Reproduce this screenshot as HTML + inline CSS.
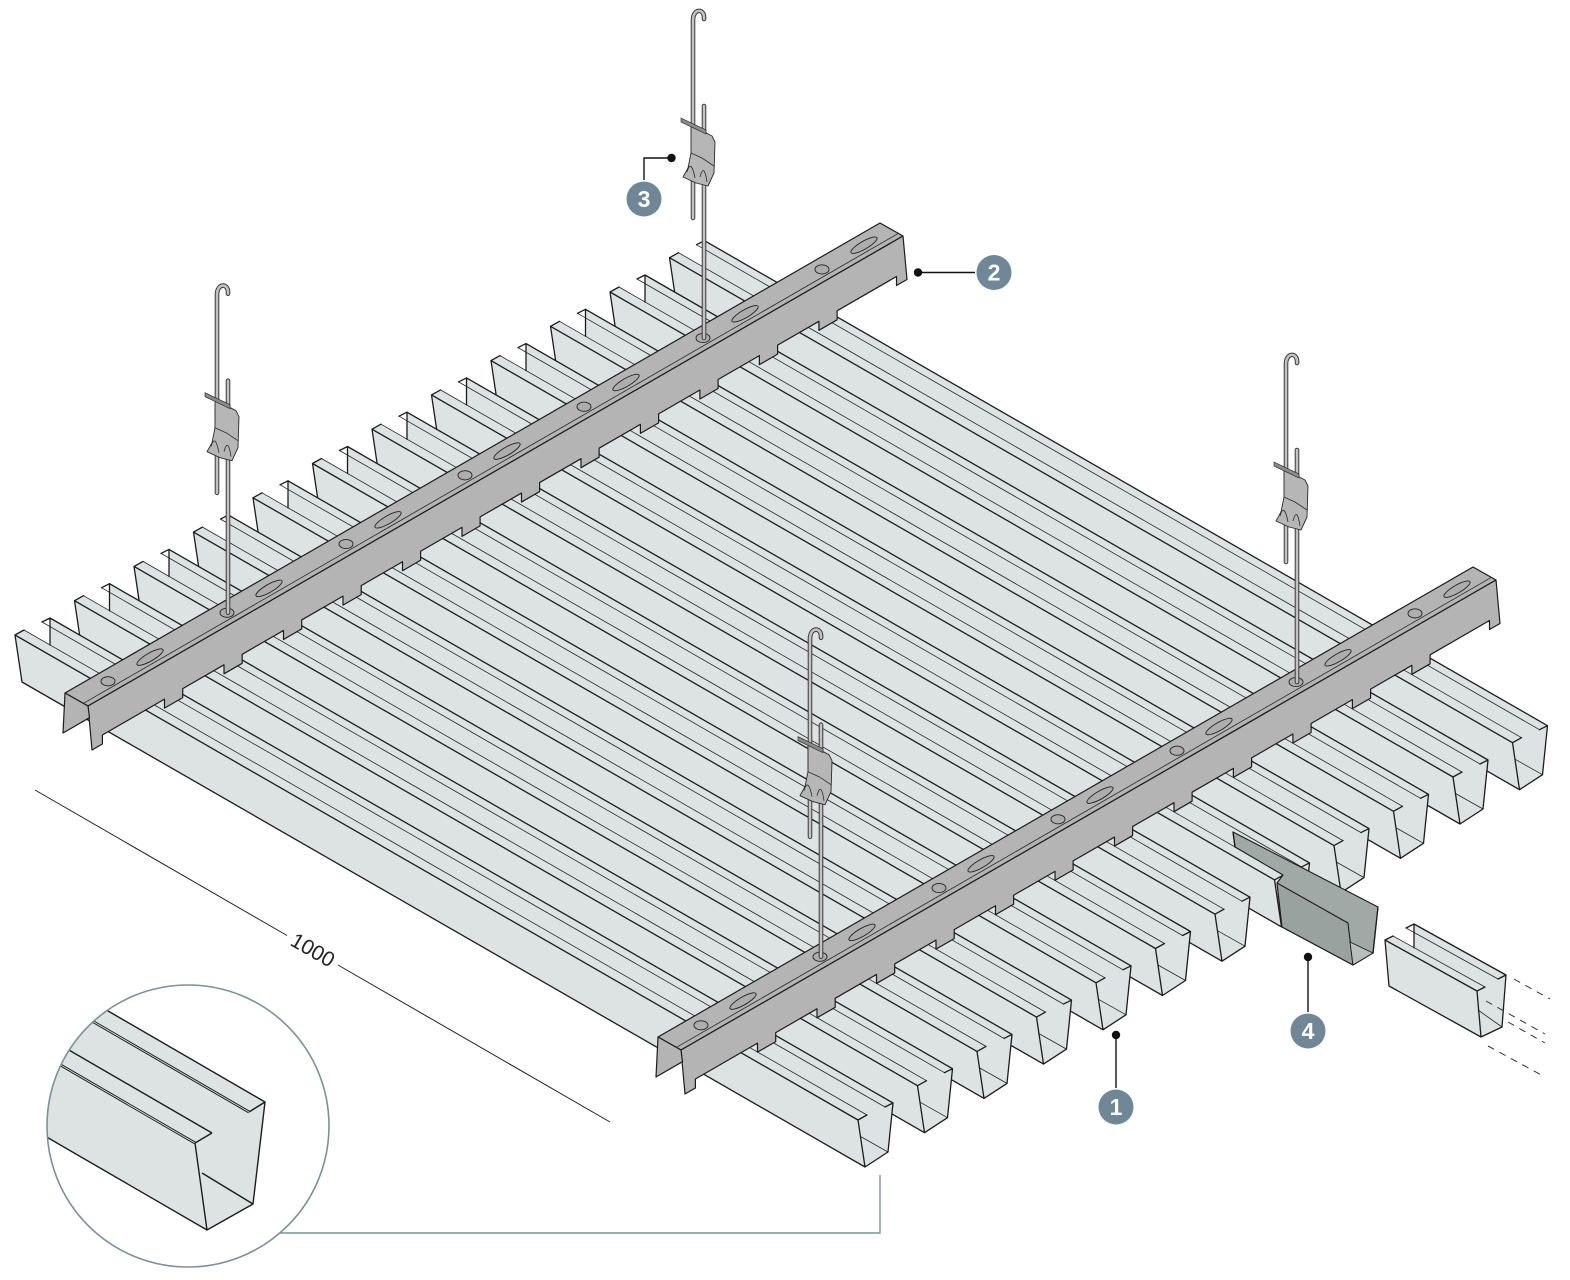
<!DOCTYPE html>
<html><head><meta charset="utf-8"><style>
html,body{margin:0;padding:0;background:#fff}
svg{display:block}
.bf{fill:#dce3e2;stroke:none}
.k{fill:none;stroke:#1c1c1c;stroke-width:1.3;stroke-linejoin:round;stroke-linecap:round}
.t{fill:none;stroke:#262626;stroke-width:0.8;stroke-linecap:round}
.rl{fill:#b4b4b4;stroke:#1c1c1c;stroke-width:1.2;stroke-linejoin:round}
.hl{fill:#adadad;stroke:#222;stroke-width:0.9}
.ro{fill:none;stroke:#3a3a3a;stroke-width:4.6;stroke-linecap:round}
.ri{fill:none;stroke:#c2c2c2;stroke-width:2.6;stroke-linecap:round}
.lb{fill:#6f8796}
.lt{fill:#fff;font-family:"Liberation Sans",Arial,sans-serif;font-weight:bold;font-size:23px;text-anchor:middle}
</style></head><body>
<svg width="1570" height="1280" viewBox="0 0 1570 1280" xmlns="http://www.w3.org/2000/svg">
<defs>
<g id="b">
<path class="bf" d="M15 635 L24 630 L50 645 L50 618 L893 1103 L888 1152 L865 1167 L22 682 Z"/>
<path class="t" d="M24 630 L867 1115 M42 622 L885 1107 M860.5 1136.5 L888 1152"/>
<path class="k" d="M15 635 L858 1120 L865 1167 M858 1120 L867 1115 M15 635 L24 630 M15 635 L22 682 L865 1167 L888 1152 L893 1103 L885 1107 M50 618 L893 1103 M50 618 L50 645 M50 618 L42 622"/>
</g>
<g id="r">
<path class="rl" d="M0 0 L815 -470 L838 -457 L23 13 Z"/>
<path class="rl" d="M23 13 L838 -457 L842 -413.5 L831.5 -407.5 L831.5 -416.5 L772.1 -382.2 L772.1 -373.2 L753.9 -362.7 L753.9 -371.7 L712.6 -347.85 L712.6 -338.85 L694.4 -328.35 L694.4 -337.35 L653.1 -313.5 L653.1 -304.5 L634.9 -294 L634.9 -303 L593.6 -279.15 L593.6 -270.15 L575.4 -259.65 L575.4 -268.65 L534.1 -244.8 L534.1 -235.8 L516 -225.3 L516 -234.3 L474.6 -210.45 L474.6 -201.45 L456.5 -190.95 L456.5 -199.95 L415.1 -176.1 L415.1 -167.1 L397 -156.6 L397 -165.6 L355.6 -141.75 L355.6 -132.75 L337.5 -122.25 L337.5 -131.25 L296.2 -107.4 L296.2 -98.4 L278 -87.9 L278 -96.9 L236.7 -73.05 L236.7 -64.05 L218.5 -53.55 L218.5 -62.55 L177.2 -38.7 L177.2 -29.7 L159 -19.2 L159 -28.2 L117.7 -4.35 L117.7 4.65 L99.5 15.15 L99.5 6.15 L37.4 42 L37.4 51 L27 57 Z"/>
<path class="rl" d="M0 0 L-2 40 L24.5 24.7 L23 13 Z"/>
<path class="t" d="M18.5 10.3 L833.5 -459.7"/>
<g class="hl">
<ellipse cx="43" cy="-11.7" rx="7" ry="4.6"/>
<ellipse cx="162" cy="-80.3" rx="7" ry="4.6"/>
<ellipse cx="281" cy="-149" rx="7" ry="4.6"/>
<ellipse cx="400" cy="-217.7" rx="7" ry="4.6"/>
<ellipse cx="519" cy="-286.3" rx="7" ry="4.6"/>
<ellipse cx="638" cy="-355" rx="7" ry="4.6"/>
<ellipse cx="757" cy="-423.6" rx="7" ry="4.6"/>
<ellipse cx="85" cy="-35.9" rx="15" ry="4" transform="rotate(-30 85 -35.9)"/>
<ellipse cx="204" cy="-104.6" rx="15" ry="4" transform="rotate(-30 204 -104.6)"/>
<ellipse cx="323" cy="-173.2" rx="15" ry="4" transform="rotate(-30 323 -173.2)"/>
<ellipse cx="442" cy="-241.9" rx="15" ry="4" transform="rotate(-30 442 -241.9)"/>
<ellipse cx="561" cy="-310.5" rx="15" ry="4" transform="rotate(-30 561 -310.5)"/>
<ellipse cx="680" cy="-379.2" rx="15" ry="4" transform="rotate(-30 680 -379.2)"/>
<ellipse cx="799" cy="-447.8" rx="15" ry="4" transform="rotate(-30 799 -447.8)"/>
</g>
</g>
<g id="h">
<path class="ro" d="M-10 -120 L-10 -318 C-10 -330 2 -330 1 -319"/>
<path class="ri" d="M-10 -120 L-10 -318 C-10 -330 2 -330 1 -319"/>
<path class="ro" d="M1 -232 L1 0"/>
<path class="ri" d="M1 -232 L1 0"/>
<path d="M-12 -213 L9 -202 L12 -196 L11 -165 L5 -152 L-7 -155 L-20 -161 L-15 -170 L-12 -185 Z" fill="#b6b6b6" stroke="#2a2a2a" stroke-width="0.9" stroke-linejoin="round"/>
<path d="M-12 -185 L-1 -180 L11 -172 M-16 -166 Q-12 -180 -8 -160 M-3 -161 Q1 -176 4 -156" fill="none" stroke="#2a2a2a" stroke-width="0.8"/>
<path d="M-22 -220 L3 -208 L3 -204 L-22 -216 Z" fill="#8a8a8a" stroke="#222" stroke-width="0.6"/>
</g>
<clipPath id="cc"><circle cx="188" cy="1126" r="141"/></clipPath>
</defs>

<rect width="1570" height="1280" fill="#fff"/>

<use href="#b" transform="translate(654.5,-377.3)"/>
<use href="#b" transform="translate(595,-343)"/>
<use href="#b" transform="translate(535.5,-308.7)"/>
<use href="#b" transform="translate(476,-274.4)"/>
<use href="#b" transform="translate(416.5,-240.1)"/>

<path d="M1233 832 L1378 907 L1373 953 L1353 965 L1282 927 L1277 883 L1283 875 L1235 847 Z" fill="#a0a9a6" stroke="#1c1c1c" stroke-width="1.1" stroke-linejoin="round"/>
<path d="M1277 883 L1348 923 L1353 965 L1282 927 Z" fill="#99a29f" stroke="#1c1c1c" stroke-width="1.1" stroke-linejoin="round"/>
<path d="M1350 942 L1373 953 L1353 965 Z" fill="#b7bebb" stroke="#1c1c1c" stroke-width="0.9"/>
<path class="k" d="M1233 832 L1235 847 M1378 907 L1373 953"/>

<use href="#b" transform="translate(357,-205.8)"/>
<use href="#b" transform="translate(297.5,-171.5)"/>
<use href="#b" transform="translate(238,-137.2)"/>
<use href="#b" transform="translate(178.5,-102.9)"/>
<use href="#b" transform="translate(119,-68.6)"/>
<use href="#b" transform="translate(59.5,-34.3)"/>
<use href="#b"/>

<path class="bf" d="M1385 940 L1393 936 L1414 947.7 L1414 924 L1506 975 L1502 1027 L1481 1037 L1389 986 Z"/>
<path class="t" d="M1393 936 L1485 987 M1406 928 L1498 979 M1478 1010 L1502 1027"/>
<path class="k" d="M1385 940 L1477 991 L1481 1037 L1502 1027 L1506 975 L1498 979 M1477 991 L1485 987 M1385 940 L1393 936 M1385 940 L1389 986 L1481 1037 M1414 924 L1506 975 M1414 924 L1414 947.7 M1414 924 L1406 928"/>
<path d="M1514 979 L1550 999 M1486 1001 L1545 1034 M1508 1022 L1545 1043 M1488 1046 L1545 1077" stroke="#333" stroke-width="1" stroke-dasharray="7 6" fill="none"/>

<use href="#r" transform="translate(65,693)"/>
<use href="#r" transform="translate(658,1037)"/>

<use href="#h" transform="translate(227,612.7)"/>
<use href="#h" transform="translate(703,338)"/>
<use href="#h" transform="translate(820,956.7)"/>
<use href="#h" transform="translate(1296,682)"/>

<path d="M35 790 L287 935.5 M338 965 L610 1122" stroke="#222" stroke-width="1" fill="none"/>
<text transform="translate(312.5,950.5) rotate(30)" text-anchor="middle" dominant-baseline="central" font-family="Liberation Sans, Arial, sans-serif" font-size="21" fill="#222">1000</text>

<g clip-path="url(#cc)">
<circle cx="188" cy="1126" r="141" fill="#fff"/>
<path class="bf" d="M0 948.3 L265 1102 L253 1204 L207 1230 L0 1110 Z"/>
<path d="M0 967.6 L249 1112 M0 1029.9 L195 1143" stroke="#1c1c1c" stroke-width="2.8" fill="none"/>
<path d="M0 967.6 L249 1112 M0 1029.9 L195 1143" stroke="#dce3e2" stroke-width="0.9" fill="none"/>
<path d="M0 948.3 L265 1102 M0 1010 L212 1133 M0 1110 L207 1230 M195 1143 L207 1230 L253 1204 L265 1102 L249 1112 M195 1143 L212 1133 M202 1173 L253 1204" stroke="#1c1c1c" stroke-width="1.4" fill="none" stroke-linejoin="round"/>
</g>
<circle cx="188" cy="1126" r="141" fill="none" stroke="#7b909c" stroke-width="1.6"/>
<path d="M280 1233 H880 V1175" stroke="#7b909c" stroke-width="1.4" fill="none"/>

<g stroke="#111" stroke-width="1.4" fill="none">
<path d="M671.5 158 H644 V180"/>
<path d="M918 272.5 H975"/>
<path d="M1116 1035 V1088"/>
<path d="M1308 957 V1012"/>
</g>
<g fill="#111">
<circle cx="671.5" cy="158" r="4.2"/>
<circle cx="918" cy="272.5" r="4.2"/>
<circle cx="1116" cy="1035" r="4.2"/>
<circle cx="1308" cy="957" r="4.2"/>
</g>
<circle class="lb" cx="644" cy="199" r="17.5"/>
<text class="lt" x="644" y="207">3</text>
<circle class="lb" cx="994" cy="272.5" r="17.5"/>
<text class="lt" x="994" y="280.5">2</text>
<circle class="lb" cx="1116" cy="1107" r="17.5"/>
<text class="lt" x="1116" y="1115">1</text>
<circle class="lb" cx="1308" cy="1031" r="17.5"/>
<text class="lt" x="1308" y="1039">4</text>
</svg>
</body></html>
